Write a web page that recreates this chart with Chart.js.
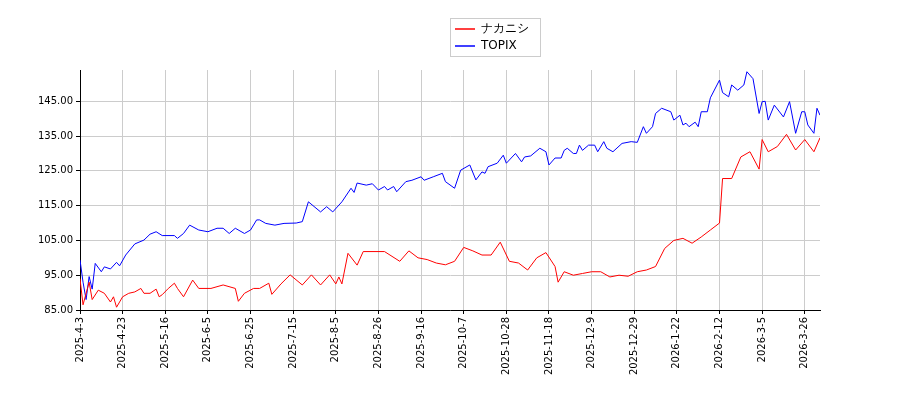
<!DOCTYPE html>
<html>
<head>
<meta charset="utf-8">
<script src="https://cdn.jsdelivr.net/npm/chart.js@4"></script>
<style>
body { margin: 0; background: #fff; }
#wrap { width: 900px; height: 400px; }
</style>
</head>
<body>
<div id="wrap"><canvas id="chart" width="900" height="400"></canvas></div>
<script>
// tick labels, one every 14 trading days
var tickLabels = ['2025-4-3', '2025-4-23', '2025-5-16', '2025-6-5', '2025-6-25', '2025-7-15',
    '2025-8-5', '2025-8-26', '2025-9-16', '2025-10-7', '2025-10-28', '2025-11-18',
    '2025-12-9', '2025-12-29', '2026-1-22', '2026-2-12', '2026-3-5', '2026-3-26'];

// ナカニシ: trading-day index and value
var nakaDays = [0, 1, 3, 4, 6, 8, 10, 11, 12, 14, 16, 18, 20, 21, 23, 25, 26, 27, 29, 31, 32, 34, 37, 39, 43, 47, 51, 52, 54, 57,
    59, 62, 63, 66, 69, 73, 76, 79, 82, 84, 85, 86, 88, 91, 93, 100, 105, 108, 111, 114, 117, 120,
    123, 126, 129, 132, 135, 138, 141, 144, 147, 150, 153, 156, 157, 159, 162, 165, 168, 171, 174, 177, 180,
    183, 186, 189, 192, 195, 198, 201, 204, 207, 210, 211, 214, 217, 220, 223, 224, 226, 229, 232, 235, 238, 241, 243];
var nakaValues = [94, 86.5, 93, 88, 90.7, 89.8, 87.3, 88.8, 85.8, 88.8, 89.8, 90.2, 91.2, 89.8, 89.8, 91, 88.8, 89.4, 91.2, 92.7, 91.2, 88.8, 93.6, 91.2, 91.2, 92.2, 91.2, 87.5, 89.8, 91.2,
    91.2, 92.7, 89.5, 92.5, 95.1, 92.2, 95.1, 92.2, 95.1, 92.5, 94.5, 92.5, 101.3, 97.9, 101.8, 101.8, 99, 102, 100, 99.5, 98.5, 98,
    99, 103, 102, 100.8, 100.8, 104.5, 99, 98.5, 96.5, 100, 101.5, 97.5, 93, 96, 95, 95.5, 96, 96, 94.5, 95, 94.7,
    96, 96.5, 97.5, 102.7, 105, 105.6, 104.2, 106, 108, 110, 122.8, 122.8, 129, 130.5, 125.5, 134, 130.5, 132, 135.5, 131, 134, 130.5, 134.5];

// TOPIX: trading-day index and value
var topixDays = [0, 1, 2, 3, 4, 5, 7, 8, 10, 12, 13, 15, 18, 21, 23, 25, 27, 31, 32, 34, 36, 39, 42, 45, 47, 49, 51, 54, 56, 58,
    59, 61, 64, 67, 71, 73, 75, 79, 81, 83, 86, 89, 90, 91, 94, 96, 98, 100, 101, 103, 104, 107, 109, 112, 113, 116, 119,
    120, 123, 125, 128, 130, 132, 133, 134, 137, 139, 140, 143, 145, 146, 148, 151, 153, 154, 156, 158, 159, 160, 162, 163, 164, 165, 167, 169, 170, 172, 173, 175, 178, 181,
    183, 185, 186, 188, 189, 191, 194, 195, 197, 198, 199, 200, 202, 203, 204, 206, 207, 210, 211, 213, 214, 216, 218, 219, 221, 223, 224, 225, 226, 228, 231, 233, 235, 237, 238, 239, 241, 242, 243];
var topixValues = [99.4, 93, 88, 94.6, 91, 98.4, 96, 97.4, 96.8, 98.7, 97.7, 100.8, 104, 105.1, 106.8, 107.5, 106.4, 106.4, 105.6, 107, 109.4, 108, 107.5, 108.5, 108.5, 107, 108.5, 107, 108, 110.9,
    110.9, 109.9, 109.4, 109.9, 110, 110.4, 116.1, 113.2, 114.7, 113.2, 116.1, 120, 118.8, 121.5, 120.9, 121.3, 119.5, 120.5, 119.5, 120.5, 119, 121.9, 122.3, 123.3, 122.3, 123.3, 124.3,
    121.9, 120, 125.2, 126.7, 122.4, 124.7, 124.3, 126.2, 127.2, 129.5, 127.2, 130, 127.6, 129, 129.3, 131.5, 130.5, 126.7, 128.7, 128.7, 130.9, 131.5, 130, 130, 132.4, 130.9, 132.4, 132.4, 130.5, 133.4, 131.5, 130.5, 132.9, 133.4,
    133.2, 137.7, 135.8, 137.7, 141.5, 143, 142, 139.6, 141, 138.2, 138.7, 137.7, 139, 137.7, 142, 142, 146, 151.1, 147.5, 146.3, 149.7, 148.2, 149.7, 153.5, 151.5, 141.5, 144.9, 145, 139.6, 143.9, 140.5, 144.9, 135.8, 142, 142, 138.2, 135.8, 143, 141, 142.5];

var yTicks = [85, 95, 105, 115, 125, 135, 145];

function toPoints(days, values) {
    return days.map(function (d, i) { return { x: d, y: values[i] }; });
}

// matplotlib-like legend box drawn by hand
var legendBox = {
    id: 'legendBox',
    afterDraw: function (chart) {
        var ctx = chart.ctx;
        ctx.save();
        ctx.fillStyle = '#fff';
        ctx.strokeStyle = '#ccc';
        ctx.lineWidth = 1;
        ctx.fillRect(450.5, 18.5, 90, 38);
        ctx.strokeRect(450.5, 18.5, 90, 38);
        var items = [['ナカニシ', 'red'], ['TOPIX', 'blue']];
        ctx.font = '12px "DejaVu Sans"';
        ctx.textBaseline = 'middle';
        items.forEach(function (it, i) {
            var y = 29 + i * 17;
            ctx.strokeStyle = it[1];
            ctx.lineWidth = 1.5;
            ctx.beginPath();
            ctx.moveTo(455, y);
            ctx.lineTo(475, y);
            ctx.stroke();
            ctx.fillStyle = '#000';
            ctx.fillText(it[0], 481, y);
        });
        ctx.restore();
    }
};

new Chart(document.getElementById('chart'), {
    type: 'line',
    data: {
        datasets: [{
            label: 'ナカニシ',
            data: toPoints(nakaDays, nakaValues),
            borderColor: 'red',
            borderWidth: 1,
            pointRadius: 0,
            tension: 0
        }, {
            label: 'TOPIX',
            data: toPoints(topixDays, topixValues),
            borderColor: 'blue',
            borderWidth: 1,
            pointRadius: 0,
            tension: 0
        }]
    },
    options: {
        responsive: false,
        animation: false,
        layout: { padding: { top: 70, right: 80, left: 0, bottom: 0 } },
        plugins: { legend: { display: false }, tooltip: { enabled: false } },
        scales: {
            x: {
                type: 'linear',
                min: 0,
                max: 243,
                afterBuildTicks: function (axis) {
                    axis.ticks = tickLabels.map(function (t, i) { return { value: i * 14 }; });
                },
                afterFit: function (axis) { axis.height = 90; },
                ticks: {
                    autoSkip: false,
                    maxRotation: 90,
                    minRotation: 90,
                    color: '#000',
                    font: { family: 'DejaVu Sans', size: 10 },
                    callback: function (v) { return tickLabels[v / 14]; }
                },
                grid: { color: '#ccc', tickColor: '#000', tickLength: 4 },
                border: { color: '#000' }
            },
            y: {
                min: 85,
                max: 154,
                afterBuildTicks: function (axis) {
                    axis.ticks = yTicks.map(function (v) { return { value: v }; });
                },
                afterFit: function (axis) { axis.width = 80; },
                ticks: {
                    color: '#000',
                    font: { family: 'DejaVu Sans', size: 10 },
                    callback: function (v) { return v.toFixed(2); }
                },
                grid: { color: '#ccc', tickColor: '#000', tickLength: 4 },
                border: { color: '#000' }
            }
        }
    },
    plugins: [legendBox]
});
</script>
</body>
</html>
